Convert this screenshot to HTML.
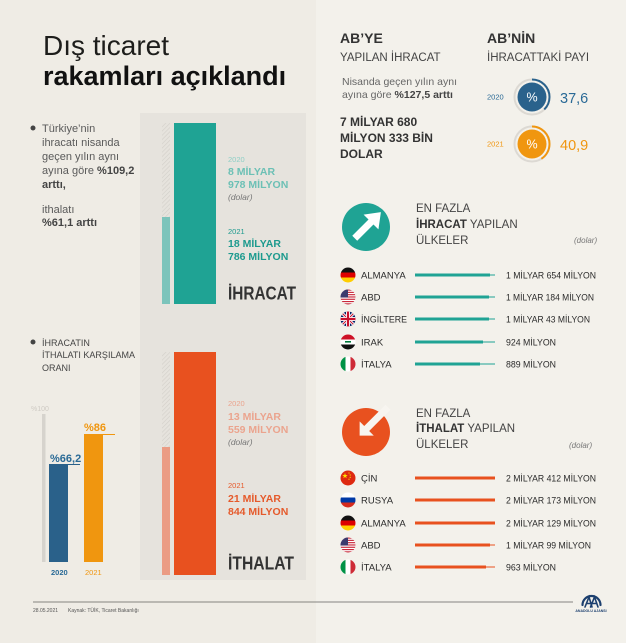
<!DOCTYPE html>
<html><head><meta charset="utf-8"><style>html,body{margin:0;padding:0;background:#f1eee7}svg{display:block}</style></head>
<body>
<svg width="626" height="643" viewBox="0 0 626 643" xmlns="http://www.w3.org/2000/svg" font-family="'Liberation Sans', sans-serif">
<defs>
<pattern id="hatch" width="3" height="3" patternUnits="userSpaceOnUse" patternTransform="rotate(45)">
<rect width="3" height="3" fill="#e6e3dd"/><line x1="0" y1="0" x2="0" y2="3" stroke="#d2cfc9" stroke-width="1.2"/>
</pattern>
<clipPath id="fc"><circle cx="0" cy="0" r="7.5"/></clipPath>
</defs>
<rect x="0" y="0" width="316" height="643" fill="#efece5"/>
<rect x="316" y="0" width="310" height="643" fill="#f3f1eb"/>
<rect x="140" y="113" width="166" height="467" fill="#e6e3dd"/>

<!-- Title -->
<text x="43" y="55" font-size="28" fill="#1d1d1b">Dış ticaret</text>
<text x="43" y="85" font-size="27" font-weight="bold" fill="#111">rakamları açıklandı</text>

<!-- Left bullet text -->
<circle cx="33" cy="128" r="2.5" fill="#444"/>
<g font-size="11" fill="#5a5a5a">
<text x="42" y="132">Türkiye’nin</text>
<text x="42" y="146">ihracatı nisanda</text>
<text x="42" y="160">geçen yılın aynı</text>
<text x="42" y="174">ayına göre <tspan font-weight="bold" fill="#444">%109,2</tspan></text>
<text x="42" y="188" font-weight="bold" fill="#444">arttı,</text>
<text x="42" y="213">ithalatı</text>
<text x="42" y="226" font-weight="bold" fill="#444">%61,1 arttı</text>
</g>

<!-- Export bars -->
<rect x="162" y="123" width="8" height="94" fill="url(#hatch)"/>
<rect x="162" y="217" width="8" height="87" fill="#7cc4bb"/>
<rect x="174" y="123" width="42" height="181" fill="#1fa394"/>
<text x="228" y="162" font-size="7.5" fill="#8fcfc6">2020</text>
<text x="228" y="175" font-size="10.5" font-weight="bold" fill="#6cc0b5">8 MİLYAR</text>
<text x="228" y="188" font-size="10.5" font-weight="bold" fill="#6cc0b5">978 MİLYON</text>
<text x="228" y="200" font-size="8.5" font-style="italic" fill="#777">(dolar)</text>
<text x="228" y="234" font-size="7.5" fill="#1c9a8e">2021</text>
<text x="228" y="247" font-size="10.5" font-weight="bold" fill="#1c9a8e">18 MİLYAR</text>
<text x="228" y="260" font-size="10.5" font-weight="bold" fill="#1c9a8e">786 MİLYON</text>
<text x="228" y="299.5" font-size="18" font-weight="bold" fill="#333" textLength="68" lengthAdjust="spacingAndGlyphs">İHRACAT</text>

<!-- Import bars -->
<rect x="162" y="352" width="8" height="95" fill="url(#hatch)"/>
<rect x="162" y="447" width="8" height="128" fill="#eb9c84"/>
<rect x="174" y="352" width="42" height="223" fill="#e8511f"/>
<text x="228" y="406" font-size="7.5" fill="#eba48e">2020</text>
<text x="228" y="420" font-size="10.5" font-weight="bold" fill="#eba48e">13 MİLYAR</text>
<text x="228" y="433" font-size="10.5" font-weight="bold" fill="#eba48e">559 MİLYON</text>
<text x="228" y="445" font-size="8.5" font-style="italic" fill="#777">(dolar)</text>
<text x="228" y="488" font-size="7.5" fill="#e55a2b">2021</text>
<text x="228" y="502" font-size="10.5" font-weight="bold" fill="#e55a2b">21 MİLYAR</text>
<text x="228" y="515" font-size="10.5" font-weight="bold" fill="#e55a2b">844 MİLYON</text>
<text x="228" y="569.5" font-size="18" font-weight="bold" fill="#333" textLength="66" lengthAdjust="spacingAndGlyphs">İTHALAT</text>

<!-- Coverage ratio -->
<circle cx="33" cy="342" r="2.5" fill="#444"/>
<g font-size="9" fill="#444">
<text x="42" y="346">İHRACATIN</text>
<text x="42" y="358" textLength="93" lengthAdjust="spacingAndGlyphs">İTHALATI KARŞILAMA</text>
<text x="42" y="371">ORANI</text>
</g>
<text x="31" y="411" font-size="7" fill="#cfcbc4">%100</text>
<rect x="42" y="414" width="3.5" height="148" fill="#d6d3cd"/>
<rect x="49" y="464" width="19" height="98" fill="#2a618a"/>
<line x1="49" y1="464.5" x2="80" y2="464.5" stroke="#2a618a" stroke-width="1"/>
<text x="50" y="462" font-size="11" font-weight="bold" fill="#2a6a96">%66,2</text>
<rect x="84" y="434" width="19" height="128" fill="#f0960f"/>
<line x1="84" y1="434.5" x2="115" y2="434.5" stroke="#f0960f" stroke-width="1"/>
<text x="84" y="431" font-size="11" font-weight="bold" fill="#f0960f">%86</text>
<text x="51" y="575" font-size="7.5" font-weight="bold" fill="#2a6a96">2020</text>
<text x="85" y="575" font-size="7.5" fill="#f0960f">2021</text>

<!-- Footer -->
<line x1="33" y1="602" x2="573" y2="602" stroke="#858380" stroke-width="1"/>
<text x="33" y="612" font-size="5" fill="#555">28.05.2021</text>
<text x="68" y="612" font-size="5" fill="#555">Kaynak: TÜİK, Ticaret Bakanlığı</text>
<g fill="none" stroke="#1c3f6e" stroke-linecap="round">
<path d="M582.5 605 A9 9 0 0 1 600.5 605" stroke-width="2.2"/>
<path d="M585 607 L589 597 L592 607 M587 603.5 L590.5 603.5" stroke-width="1.6"/>
<path d="M590.5 607 L594.5 597 L598 607 M592.5 603.5 L596.5 603.5" stroke-width="1.6"/>
</g>
<text x="591" y="612" font-size="3.5" font-weight="bold" fill="#1c3f6e" text-anchor="middle">ANADOLU AJANSI</text>

<!-- Right top -->
<text x="340" y="43" font-size="14" font-weight="bold" fill="#333">AB’YE</text>
<text x="340" y="61" font-size="11.5" fill="#444">YAPILAN İHRACAT</text>
<text x="342" y="85" font-size="10.5" fill="#666">Nisanda geçen yılın aynı</text>
<text x="342" y="98" font-size="10.5" fill="#666">ayına göre <tspan font-weight="bold" fill="#444">%127,5 arttı</tspan></text>
<text x="340" y="126" font-size="12" font-weight="bold" fill="#333">7 MİLYAR 680</text>
<text x="340" y="142" font-size="12" font-weight="bold" fill="#333">MİLYON 333 BİN</text>
<text x="340" y="158" font-size="12" font-weight="bold" fill="#333">DOLAR</text>

<text x="487" y="43" font-size="14" font-weight="bold" fill="#333">AB’NİN</text>
<text x="487" y="61" font-size="11.5" fill="#444">İHRACATTAKİ PAYI</text>

<text x="487" y="99.5" font-size="7.5" fill="#2a6a96">2020</text>
<circle cx="532" cy="97" r="17.5" fill="none" stroke="#dcd9d3" stroke-width="2"/>
<circle cx="532" cy="97" r="17.5" fill="none" stroke="#2a628c" stroke-width="2" stroke-dasharray="41.3 200" transform="rotate(-90 532 97)"/>
<circle cx="532" cy="97" r="14.5" fill="#2a628c"/>
<text x="532" y="101.5" font-size="12.5" fill="#fff" text-anchor="middle">%</text>
<text x="560" y="103" font-size="14.5" fill="#2a6a96">37,6</text>

<text x="487" y="146.5" font-size="7.5" fill="#f0960f">2021</text>
<circle cx="532" cy="144" r="17.5" fill="none" stroke="#dcd9d3" stroke-width="2"/>
<circle cx="532" cy="144" r="17.5" fill="none" stroke="#f0960f" stroke-width="2" stroke-dasharray="45 200" transform="rotate(-90 532 144)"/>
<circle cx="532" cy="144" r="14.5" fill="#f0960f"/>
<text x="532" y="148.5" font-size="12.5" fill="#fff" text-anchor="middle">%</text>
<text x="560" y="150" font-size="14.5" fill="#f0960f">40,9</text>

<!-- Export countries -->
<circle cx="366" cy="227" r="24" fill="#1fa394"/>
<g transform="translate(371,222) rotate(-45)"><polygon points="-23,-3.5 0,-3.5 0,-10.5 14,0 0,10.5 0,3.5 -23,3.5" fill="#fff"/></g>
<g font-size="11.5" fill="#444">
<text x="416" y="212">EN FAZLA</text>
<text x="416" y="228"><tspan font-weight="bold" fill="#333">İHRACAT</tspan> YAPILAN</text>
<text x="416" y="244">ÜLKELER</text>
</g>
<text x="574" y="243" font-size="8" font-style="italic" fill="#777">(dolar)</text>

<!-- flags export -->
<g transform="translate(348,275)"><g clip-path="url(#fc)">
<rect x="-8" y="-8" width="16" height="5.5" fill="#111"/><rect x="-8" y="-2.5" width="16" height="5" fill="#dd0000"/><rect x="-8" y="2.5" width="16" height="5.5" fill="#ffce00"/></g></g>
<g transform="translate(348,297)"><g clip-path="url(#fc)">
<rect x="-8" y="-8" width="16" height="16" fill="#fff"/>
<rect x="-8" y="-7.5" width="16" height="1.15" fill="#c8283a"/><rect x="-8" y="-5.2" width="16" height="1.15" fill="#c8283a"/><rect x="-8" y="-2.9" width="16" height="1.15" fill="#c8283a"/><rect x="-8" y="-0.6" width="16" height="1.15" fill="#c8283a"/><rect x="-8" y="1.7" width="16" height="1.15" fill="#c8283a"/><rect x="-8" y="4" width="16" height="1.15" fill="#c8283a"/><rect x="-8" y="6.3" width="16" height="1.2" fill="#c8283a"/>
<rect x="-8" y="-8" width="8" height="8.5" fill="#3c3b6e"/></g></g>
<g transform="translate(348,319)"><g clip-path="url(#fc)">
<rect x="-8" y="-8" width="16" height="16" fill="#012169"/>
<path d="M-8 -8 L8 8 M8 -8 L-8 8" stroke="#fff" stroke-width="3"/>
<path d="M-8 -8 L8 8 M8 -8 L-8 8" stroke="#c8102e" stroke-width="1"/>
<path d="M0 -8 V8 M-8 0 H8" stroke="#fff" stroke-width="4"/>
<path d="M0 -8 V8 M-8 0 H8" stroke="#c8102e" stroke-width="2.2"/></g></g>
<g transform="translate(348,342)"><g clip-path="url(#fc)">
<rect x="-8" y="-8" width="16" height="5.5" fill="#ce1126"/><rect x="-8" y="-2.5" width="16" height="5" fill="#fff"/><rect x="-8" y="2.5" width="16" height="5.5" fill="#111"/>
<rect x="-3" y="-1" width="6" height="1.6" fill="#007a3d"/></g></g>
<g transform="translate(348,364)"><g clip-path="url(#fc)">
<rect x="-8" y="-8" width="5.5" height="16" fill="#009246"/><rect x="-2.5" y="-8" width="5" height="16" fill="#fff"/><rect x="2.5" y="-8" width="5.5" height="16" fill="#ce2b37"/></g></g>

<g font-size="9.5" fill="#2a2a2a">
<text x="361" y="278.5">ALMANYA</text>
<text x="361" y="300.5">ABD</text>
<text x="361" y="322.5" textLength="46" lengthAdjust="spacingAndGlyphs">İNGİLTERE</text>
<text x="361" y="345.5">IRAK</text>
<text x="361" y="367.5">İTALYA</text>
</g>
<g stroke="#1fa394">
<line x1="415" y1="275" x2="495" y2="275" stroke-width="1"/><line x1="415" y1="275" x2="490" y2="275" stroke-width="3"/>
<line x1="415" y1="297" x2="495" y2="297" stroke-width="1"/><line x1="415" y1="297" x2="489" y2="297" stroke-width="3"/>
<line x1="415" y1="319" x2="495" y2="319" stroke-width="1"/><line x1="415" y1="319" x2="489" y2="319" stroke-width="3"/>
<line x1="415" y1="342" x2="495" y2="342" stroke-width="1"/><line x1="415" y1="342" x2="483" y2="342" stroke-width="3"/>
<line x1="415" y1="364" x2="495" y2="364" stroke-width="1"/><line x1="415" y1="364" x2="480" y2="364" stroke-width="3"/>
</g>
<g font-size="9.5" fill="#2a2a2a">
<text x="506" y="278.5" textLength="90" lengthAdjust="spacingAndGlyphs">1 MİLYAR 654 MİLYON</text>
<text x="506" y="300.5" textLength="88" lengthAdjust="spacingAndGlyphs">1 MİLYAR 184 MİLYON</text>
<text x="506" y="322.5" textLength="84" lengthAdjust="spacingAndGlyphs">1 MİLYAR 43 MİLYON</text>
<text x="506" y="345.5" textLength="50" lengthAdjust="spacingAndGlyphs">924 MİLYON</text>
<text x="506" y="367.5" textLength="50" lengthAdjust="spacingAndGlyphs">889 MİLYON</text>
</g>

<!-- Import countries -->
<circle cx="366" cy="432" r="24" fill="#e8511f"/>
<g transform="translate(366.7,428.5) rotate(135)"><polygon points="-30,-3.5 0,-3.5 0,-10 10,0 0,10 0,3.5 -30,3.5" fill="#f7f5f0"/></g>
<g font-size="11.5" fill="#444">
<text x="416" y="417">EN FAZLA</text>
<text x="416" y="432"><tspan font-weight="bold" fill="#333">İTHALAT</tspan> YAPILAN</text>
<text x="416" y="448">ÜLKELER</text>
</g>
<text x="569" y="448" font-size="8" font-style="italic" fill="#777">(dolar)</text>

<g transform="translate(348,478)"><g clip-path="url(#fc)">
<rect x="-8" y="-8" width="16" height="16" fill="#de2910"/>
<polygon points="-3,-5 -2.3,-3 -0.3,-3 -1.9,-1.8 -1.3,0.2 -3,-1 -4.7,0.2 -4.1,-1.8 -5.7,-3 -3.7,-3" fill="#ffde00"/>
<circle cx="1" cy="-5" r="0.6" fill="#ffde00"/><circle cx="2.2" cy="-3" r="0.6" fill="#ffde00"/><circle cx="2.2" cy="-0.6" r="0.6" fill="#ffde00"/><circle cx="1" cy="1.2" r="0.6" fill="#ffde00"/></g></g>
<g transform="translate(348,500)"><g clip-path="url(#fc)">
<rect x="-8" y="-8" width="16" height="5.5" fill="#fff"/><rect x="-8" y="-2.5" width="16" height="5" fill="#0039a6"/><rect x="-8" y="2.5" width="16" height="5.5" fill="#d52b1e"/></g></g>
<g transform="translate(348,523)"><g clip-path="url(#fc)">
<rect x="-8" y="-8" width="16" height="5.5" fill="#111"/><rect x="-8" y="-2.5" width="16" height="5" fill="#dd0000"/><rect x="-8" y="2.5" width="16" height="5.5" fill="#ffce00"/></g></g>
<g transform="translate(348,545)"><g clip-path="url(#fc)">
<rect x="-8" y="-8" width="16" height="16" fill="#fff"/>
<rect x="-8" y="-7.5" width="16" height="1.15" fill="#c8283a"/><rect x="-8" y="-5.2" width="16" height="1.15" fill="#c8283a"/><rect x="-8" y="-2.9" width="16" height="1.15" fill="#c8283a"/><rect x="-8" y="-0.6" width="16" height="1.15" fill="#c8283a"/><rect x="-8" y="1.7" width="16" height="1.15" fill="#c8283a"/><rect x="-8" y="4" width="16" height="1.15" fill="#c8283a"/><rect x="-8" y="6.3" width="16" height="1.2" fill="#c8283a"/>
<rect x="-8" y="-8" width="8" height="8.5" fill="#3c3b6e"/></g></g>
<g transform="translate(348,567)"><g clip-path="url(#fc)">
<rect x="-8" y="-8" width="5.5" height="16" fill="#009246"/><rect x="-2.5" y="-8" width="5" height="16" fill="#fff"/><rect x="2.5" y="-8" width="5.5" height="16" fill="#ce2b37"/></g></g>

<g font-size="9.5" fill="#2a2a2a">
<text x="361" y="481.5">ÇİN</text>
<text x="361" y="503.5">RUSYA</text>
<text x="361" y="526.5">ALMANYA</text>
<text x="361" y="548.5">ABD</text>
<text x="361" y="570.5">İTALYA</text>
</g>
<g stroke="#e8511f">
<line x1="415" y1="478" x2="495" y2="478" stroke-width="3"/>
<line x1="415" y1="500" x2="495" y2="500" stroke-width="3"/>
<line x1="415" y1="523" x2="495" y2="523" stroke-width="3"/>
<line x1="415" y1="545" x2="495" y2="545" stroke-width="1"/><line x1="415" y1="545" x2="490" y2="545" stroke-width="3"/>
<line x1="415" y1="567" x2="495" y2="567" stroke-width="1"/><line x1="415" y1="567" x2="486" y2="567" stroke-width="3"/>
</g>
<g font-size="9.5" fill="#2a2a2a">
<text x="506" y="481.5" textLength="90" lengthAdjust="spacingAndGlyphs">2 MİLYAR 412 MİLYON</text>
<text x="506" y="503.5" textLength="90" lengthAdjust="spacingAndGlyphs">2 MİLYAR 173 MİLYON</text>
<text x="506" y="526.5" textLength="90" lengthAdjust="spacingAndGlyphs">2 MİLYAR 129 MİLYON</text>
<text x="506" y="548.5" textLength="85" lengthAdjust="spacingAndGlyphs">1 MİLYAR 99 MİLYON</text>
<text x="506" y="570.5" textLength="50" lengthAdjust="spacingAndGlyphs">963 MİLYON</text>
</g>
</svg>
</body></html>
